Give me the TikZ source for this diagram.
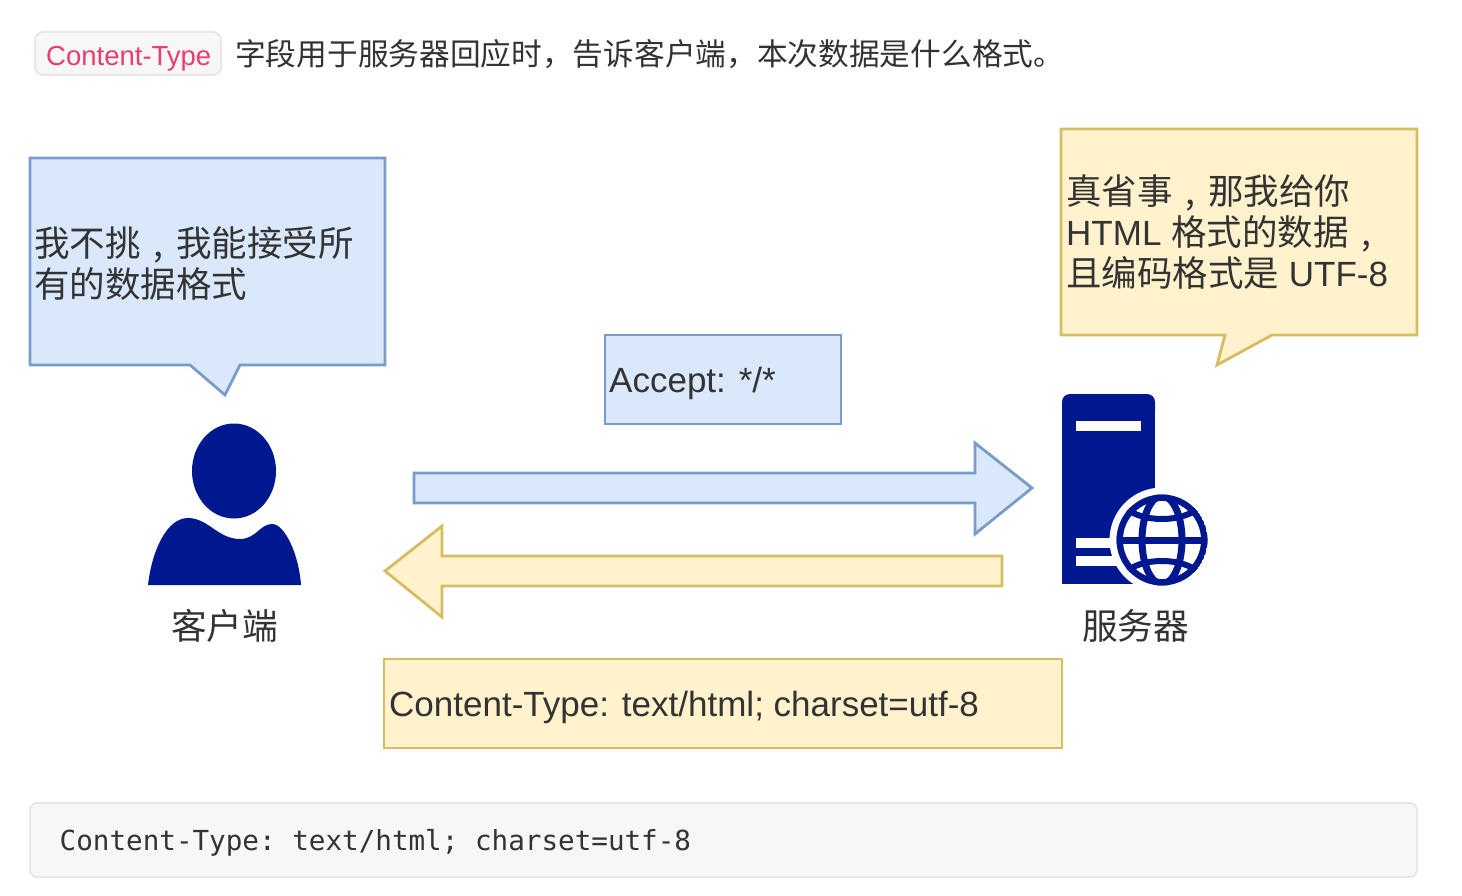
\documentclass[tikz,border=0pt]{standalone}
\usepackage{fontspec}
\setmainfont{Liberation Sans}
\newfontfamily\cjk{Noto Sans CJK SC}
\setmonofont{DejaVu Sans Mono}
\definecolor{bluefill}{HTML}{DAE8FC}
\definecolor{bluedraw}{HTML}{7C9CC8}
\definecolor{yelfill}{HTML}{FFF2CC}
\definecolor{yeldraw}{HTML}{D8BC62}
\definecolor{navy}{HTML}{00188F}
\definecolor{ink}{HTML}{333333}
\definecolor{pink}{HTML}{E83E6C}
\newcommand{\midcomma}{\makebox[35.5pt][c]{\fontsize{35.5}{42}\selectfont ,}}
\tikzset{
 x=1pt,y=-1pt,
 txt/.style={anchor=base west,inner sep=0pt,text=ink},
 bluebox/.style={fill=bluefill,draw=bluedraw,line width=2.8pt,line join=miter},
 yelbox/.style={fill=yelfill,draw=yeldraw,line width=2.8pt,line join=miter},
 fig/.style={font=\fontsize{35}{42}\selectfont},
 capt/.style={font=\cjk\fontsize{35.7}{42}\selectfont},
 callout/.style={font=\cjk\fontsize{35.5}{42}\selectfont},
}
\begin{document}
\begin{tikzpicture}
\useasboundingbox (0,0) rectangle (1462,896);
\fill[white] (0,0) rectangle (1462,896);
% inline code
\draw[rounded corners=8pt,fill=black!3,draw=black!9,line width=2pt] (35,32) rectangle (221,75);
\node[txt,text=pink,font=\fontsize{27.5}{32}\selectfont] (ct) at (46,66) {Content-Type};
\node[txt,font=\cjk\fontsize{30.7}{34}\selectfont] (head) at (235,66) {字段用于服务器回应时，告诉客户端，本次数据是什么格式。};
% callouts
\draw[bluebox] (30,158) -- (385,158) -- (385,365) -- (240,365) -- (225,395) -- (190,365) -- (30,365) -- cycle;
\node[txt,callout] (c1a) at (34,256) {我不挑\midcomma 我能接受所};
\node[txt,callout] (c1b) at (34,298) {有的数据格式};
\draw[yelbox] (1061,129) -- (1417,129) -- (1417,335) -- (1272,335) -- (1217,365) -- (1225,335) -- (1061,335) -- cycle;
\node[txt,callout] (c2a) at (1066,205) {真省事\midcomma 那我给你};
\node[txt,fig] (c2b) at (1066,246) {HTML {\cjk\fontsize{35.5}{42}\selectfont 格式的数据\midcomma}};
\node[txt,fig] (c2c) at (1066,287) {{\cjk\fontsize{35.5}{42}\selectfont 且编码格式是} UTF-8};
% boxes
\draw[bluebox] (605,335) rectangle (841,424);
\node[txt,fig] (acc) at (609,392) {Accept: */*};
\draw[yelbox] (384,659) rectangle (1062,748);
\node[txt,fig] (ctb) at (389,716) {Content-Type: text/html; charset=utf-8};
% arrows
\draw[bluebox] (414,473) -- (975,473) -- (975,443) -- (1032,488) -- (975,534) -- (975,503) -- (414,503) -- cycle;
\draw[yelbox] (1002,556) -- (442,556) -- (442,526) -- (385,571) -- (442,617) -- (442,586) -- (1002,586) -- cycle;
% person
\fill[navy] (234,471) ellipse [x radius=42,y radius=47.5];
\fill[navy] (148,585) .. controls (152,550) and (167,518) .. (188,518) .. controls (208,518) and (218,539) .. (240,539)
  .. controls (256,539) and (260,524) .. (272,524) .. controls (285,524) and (299,555) .. (301,585) -- cycle;
\node[capt,txt] (cl) at (171,639) {客户端};
% server
\fill[navy,rounded corners=8pt] (1062,420) -- (1062,394) -- (1155,394) -- (1155,420) -- cycle;
\fill[navy] (1062,410) rectangle (1155,584);
\fill[white] (1076,421) rectangle (1141,431);
\fill[white] (1076,538) rectangle (1125,548);
\fill[white] (1076,556) rectangle (1125,566);
\fill[white] (1162,540) circle (52.5);
\fill[white] (1130,584) rectangle (1215,600);
\begin{scope}
\clip (1162,540) circle (45.5);
\fill[navy] (1162,540) circle (45.5);
\fill[white] (1162,540) circle (39);
\draw[navy,line width=7pt] (1162,540) ellipse [x radius=20,y radius=44];
\draw[navy,line width=7pt] (1114,540) -- (1210,540);
\draw[navy,line width=6pt] (1125,507) .. controls (1140,523) and (1184,523) .. (1199,507);
\draw[navy,line width=6pt] (1125,573) .. controls (1140,557) and (1184,557) .. (1199,573);
\end{scope}
\node[capt,txt] (sv) at (1082,639) {服务器};
% code block
\draw[rounded corners=7pt,fill=black!3,draw=black!9,line width=2pt] (30,803) rectangle (1417,877);
\node[txt,font=\ttfamily\fontsize{27.6}{32}\selectfont] (code) at (59.5,850) {Content-Type: text/html; charset=utf-8};
\end{tikzpicture}
\end{document}
